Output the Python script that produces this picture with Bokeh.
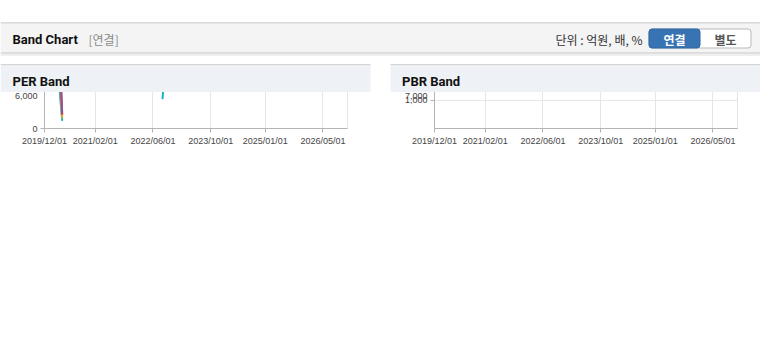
import pandas as pd
from bokeh.plotting import figure
from bokeh.models import (Range1d, DataRange1d, FixedTicker, Legend, LegendItem, Title,
                          ColumnDataSource, Spacer)
from bokeh.layouts import column, row
from bokeh.core.properties import value
from bokeh.embed import file_html
from bokeh.resources import INLINE

# ---------------- data ----------------
price_dates = ["2019-12-02", "2019-12-21", "2020-01-20", "2020-02-05", "2020-03-02", "2020-03-30",
               "2020-05-11", "2020-06-09", "2020-07-07", "2020-07-29", "2020-09-29", "2020-11-24",
               "2021-01-18", "2021-03-01", "2021-04-11", "2021-05-06", "2021-06-02", "2021-07-06",
               "2021-08-03", "2021-09-28", "2021-11-09", "2021-12-07", "2021-12-27", "2022-02-01",
               "2022-03-15", "2022-04-12", "2022-05-10", "2022-06-07", "2022-07-05", "2022-07-29",
               "2022-08-30", "2022-10-05", "2022-11-05", "2022-12-01", "2022-12-28", "2023-01-25",
               "2023-02-18", "2023-03-01", "2023-04-10", "2023-05-05", "2023-05-25", "2023-06-18",
               "2023-07-13", "2023-08-01", "2023-08-15", "2023-08-30", "2023-09-27", "2023-11-25",
               "2023-12-20", "2024-01-22", "2024-02-27", "2024-03-27", "2024-04-10", "2024-04-30",
               "2024-05-21", "2024-06-19", "2024-07-20"]
price_values = [5130, 5020, 4670, 4590, 3870, 4300,
                4300, 4070, 4110, 3740, 3800, 3950,
                3800, 4200, 3930, 3800, 4300, 3950,
                3370, 2820, 2630, 2700, 1900, 2000,
                2100, 2300, 2350, 2760, 2940, 3230,
                3000, 3000, 3150, 3520, 3900, 4670,
                4200, 3970, 4520, 4240, 4440, 4200,
                5200, 6130, 5510, 5200, 4740, 5390,
                5200, 4740, 4820, 5130, 5820, 6460,
                6050, 5820, 5670]

# EPS (PER band base); NaN = no band (negative earnings)
eps_dates = ["2019-12-01", "2020-04-28", "2020-05-01", "2022-08-20", "2022-10-10", "2022-11-27",
             "2022-12-20", "2023-02-15", "2023-05-23", "2023-08-30", "2023-12-03", "2026-11-24"]
eps_values = [370, 13, float("nan"), 50, 180, 325,
              335, 369, 433, 478, 520, 520]

# BPS (PBR band base)
bps_dates = ["2019-12-01", "2020-03-01", "2020-06-01", "2020-09-01", "2020-12-01", "2021-03-01",
             "2021-06-01", "2021-09-01", "2021-12-01", "2022-03-01", "2022-06-01", "2022-09-01",
             "2022-12-01", "2023-03-01", "2023-06-01", "2023-09-01", "2023-12-01", "2026-11-24"]
bps_values = [7990, 7870, 7720, 7540, 7260, 7110,
              6990, 6800, 6680, 6760, 6880, 7000,
              7100, 7200, 7280, 7420, 7560, 7560]

per_multiples = [5.80, 7.35, 8.91, 10.46, 12.01]
per_labels = ["5.80X", "7.35X", "8.91X", "10.46X", "12.01X"]
pbr_multiples = [0.26, 0.40, 0.55, 0.69, 0.83]
pbr_labels = ["0.26X", "0.40X", "0.55X", "0.69X", "0.83X"]
price_label = "수정주가"

x_tick_dates = ["2019-12-01", "2021-02-01", "2022-06-01", "2023-10-01", "2025-01-01", "2026-05-01"]
x_tick_labels = ["2019/12/01", "2021/02/01", "2022/06/01", "2023/10/01", "2025/01/01", "2026/05/01"]
x_start = "2019-12-01"
per_y_ticks = [0, 2000, 4000, 6000]
per_y_labels = ["0", "2,000", "4,000", "6,000"]
per_y_range = (0, 7760)
pbr_y_ticks = [1000, 2000, 3000, 4000, 5000, 6000, 7000]
pbr_y_labels = ["1,000", "2,000", "3,000", "4,000", "5,000", "6,000", "7,000"]
pbr_y_range = (754, 7615)

# ---------------- styles ----------------
price_color = "#3779c9"
band_colors = ["#1fb0c4", "#8db650", "#f4a93a", "#cd3434", "#8f55a5"]
TICK_FONT = "Liberation Sans"
KR_FONT = "Noto Sans CJK KR"
HEAD_FONT = "Roboto"

T0 = pd.Timestamp(x_start)


def day(d):
    """days since the first date of the axis"""
    return float((pd.Timestamp(d) - T0).days)


def make_chart(base_dates, base_values, multiples, labels, y_rng, y_ticks, y_labels,
               unit_offset):
    p = figure(width=370, height=272, title=" ",
               output_backend="svg", toolbar_location=None,
               min_border_left=44, min_border_right=23,
               min_border_top=36, min_border_bottom=68)
    p.x_range.range_padding = 0
    p.y_range.start = y_rng[0]
    p.y_range.end = y_rng[1]
    p.title.text_font_size = "2px"
    src = ColumnDataSource(dict(x=[day(d) for d in price_dates], y=price_values))
    items = []
    r = p.line("x", "y", source=src, line_color=price_color, line_width=2)
    items.append(LegendItem(label=price_label, renderers=[r]))
    bx = [day(d) for d in base_dates]
    for m, lab, col in zip(multiples, labels, band_colors):
        ys = [v * m for v in base_values]
        bsrc = ColumnDataSource(dict(x=bx, y=ys))
        rb = p.line("x", "y", source=bsrc, line_color=col, line_width=2)
        items.append(LegendItem(label=lab, renderers=[rb]))

    xt = [day(d) for d in x_tick_dates]
    p.xaxis.ticker = FixedTicker(ticks=xt)
    p.xaxis.major_label_overrides = {t: s for t, s in zip(xt, x_tick_labels)}
    p.yaxis.ticker = FixedTicker(ticks=y_ticks)
    p.yaxis.major_label_overrides = {t: s for t, s in zip(y_ticks, y_labels)}
    for ax in (p.xaxis, p.yaxis):
        ax.axis_line_color = "#b4b4b4"
        ax.major_tick_line_color = "#b4b4b4"
        ax.major_tick_out = 4
        ax.major_tick_in = 0
        ax.minor_tick_line_color = None
        ax.major_label_text_font = TICK_FONT
        ax.major_label_text_font_size = "9px"
        ax.major_label_text_color = "#444444"
        ax.major_label_standoff = 3
    p.xgrid.grid_line_color = "#e6e6e6"
    p.ygrid.grid_line_color = "#e6e6e6"

    t = Title(text="(원)", align="left", offset=unit_offset, standoff=4,
              text_font=KR_FONT, text_font_size="11px", text_font_style="normal",
              text_color="#444444")
    p.add_layout(t, "above")

    leg = Legend(items=items, ncols=4, orientation="horizontal", location="top_left",
                 glyph_width=11, glyph_height=13, label_width=51, label_height=13,
                 label_standoff=3, spacing=0, padding=8, margin=0,
                 border_line_color=None, background_fill_alpha=0,
                 label_text_font=KR_FONT, label_text_font_size="12px",
                 label_text_color="#333333")
    p.add_layout(leg, "below")
    return p


per = make_chart(eps_dates, eps_values, per_multiples, per_labels, per_y_range, per_y_ticks,
                 per_y_labels, -14)
pbr = make_chart(bps_dates, bps_values, pbr_multiples, pbr_labels, pbr_y_range, pbr_y_ticks,
                 pbr_y_labels, -17)

# ---------------- header (page decorations) ----------------
hdr = figure(width=760, height=92, x_range=Range1d(0, 760), y_range=Range1d(92, 0),
             output_backend="svg", toolbar_location=None, min_border=0,
             x_axis_location=None, y_axis_location=None, outline_line_color=None,
             background_fill_color="white", border_fill_color="white")
hdr.grid.visible = False

deco = dict(
    left=[0, 0, 0, 0, 0, 0, 390, 0, 390],
    right=[760, 760, 760, 760, 760, 370, 760, 370, 760],
    top=[22, 23, 52, 53, 54, 63.5, 63.5, 65, 65],
    bottom=[23, 52, 53, 54, 55.5, 65, 65, 92, 92],
    color=["#b4b4b4", "#f4f4f4", "#c2c2c2", "#dedede", "#efefef",
           "#d4d4d4", "#d4d4d4", "#eef2f7", "#eef2f7"],
)
hdr.quad(left="left", right="right", top="top", bottom="bottom", fill_color="color",
         line_color=None, source=ColumnDataSource(deco))

# button group
hdr.quad(left=[648.5], right=[750.5], top=[28.5], bottom=[47.5], fill_color="white",
         line_color="#b8b8b8", line_width=1, border_radius=3)
hdr.quad(left=[648.5], right=[699.5], top=[28.5], bottom=[47.5], fill_color="#3874b4",
         line_color="#2f66a2", line_width=1, border_radius=3)

hdr.text(x=[12], y=[38.5], text=["Band Chart"], text_font=value(HEAD_FONT),
         text_font_style="bold", text_font_size="13px", text_baseline="middle",
         text_color="#111111")
hdr.text(x=[88], y=[38.5], text=["[연결]"], text_font=value(KR_FONT),
         text_font_size="12px", text_baseline="middle", text_color="#8a8a8a")
hdr.text(x=[642], y=[38.5], text=["단위 : 억원, 배, %"], text_font=value(KR_FONT),
         text_font_size="12px", text_baseline="middle", text_align="right",
         text_color="#333333")
hdr.text(x=[674], y=[38.5], text=["연결"], text_font=value(KR_FONT), text_font_style="bold",
         text_font_size="12px", text_baseline="middle", text_align="center",
         text_color="white")
hdr.text(x=[725], y=[38.5], text=["별도"], text_font=value(KR_FONT), text_font_style="bold",
         text_font_size="12px", text_baseline="middle", text_align="center",
         text_color="#555555")
hdr.text(x=[12, 401.5], y=[80.5, 80.5], text=["PER Band", "PBR Band"],
         text_font=value(HEAD_FONT), text_font_style="bold", text_font_size="13px",
         text_baseline="middle", text_color="#111111")

layout = column(hdr, row(per, Spacer(width=20, height=272), pbr))

open("out.html", "w").write(file_html(layout, INLINE))
